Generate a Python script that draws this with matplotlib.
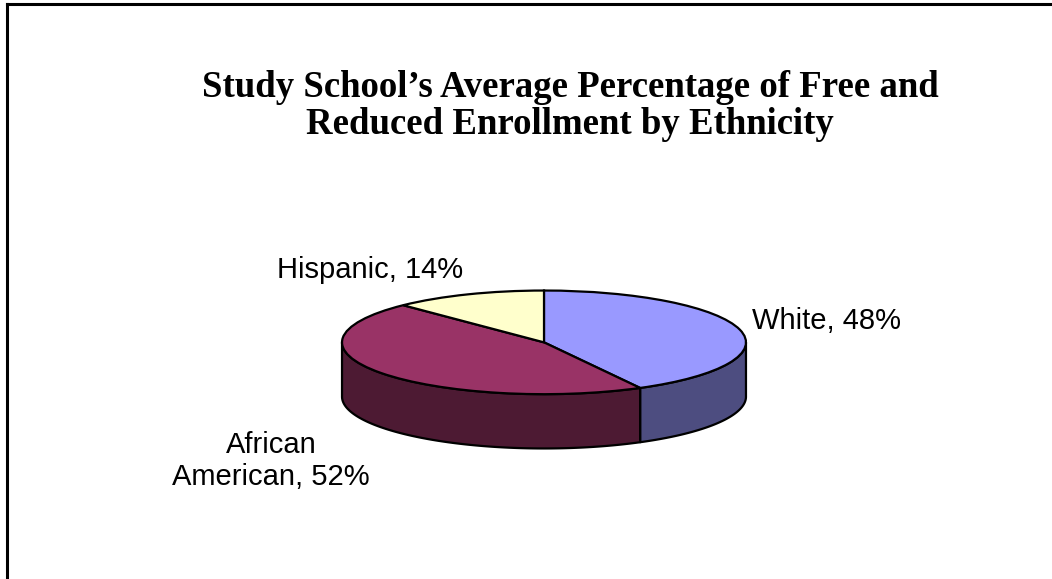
import numpy as np
import matplotlib
matplotlib.use("Agg")
import matplotlib.pyplot as plt
from matplotlib.patches import Polygon
from matplotlib.lines import Line2D

# ---- data ----
categories = ["White", "African American", "Hispanic"]
values = [48, 52, 14]
label_texts = ["White, 48%", "African\nAmerican, 52%", "Hispanic, 14%"]
title = "Study School\u2019s Average Percentage of Free and\nReduced Enrollment by Ethnicity"

top_colors = ["#9999FF", "#993366", "#FFFFCC"]
side_colors = ["#4D4D80", "#4D1A33", "#80806A"]

W, H = 1052, 579
fig = plt.figure(figsize=(W / 100, H / 100), dpi=100)
fig.patch.set_facecolor("white")

# border (left and top edges visible)
fig.add_artist(Line2D([6.5 / W, 6.5 / W], [0, 1 - 3.5 / H], transform=fig.transFigure,
                      color="black", lw=2.2, solid_capstyle="projecting"))
fig.add_artist(Line2D([6.5 / W, 1.0], [1 - 3.5 / H, 1 - 3.5 / H], transform=fig.transFigure,
                      color="black", lw=2.2, solid_capstyle="projecting"))

# title
fig.text(570 / W, 1 - 106 / H, title, ha="center", va="center", multialignment="center",
         fontsize=26.5, fontweight="bold", family="Liberation Serif", linespacing=1.05)

# pie geometry (pixels)
cx, cy_top, rx, ry, depth = 544, 342, 204, 52.5, 55
d = depth / ry
left = (cx - rx) / W
width = 2 * rx / W
top_px = cy_top - ry
bottom_px = cy_top + ry + depth
ax = fig.add_axes([left, 1 - bottom_px / H, width, (bottom_px - top_px) / H])

wedges, _ = ax.pie(values, colors=top_colors, startangle=90, counterclock=False,
                   wedgeprops=dict(edgecolor="black", linewidth=1.6),
                   radius=1.0, center=(0, 0), frame=False)
for w in wedges:
    w.set_zorder(3)

# side walls for the front-facing parts of each slice
for w, sc in zip(wedges, side_colors):
    t1, t2 = w.theta1, w.theta2
    for k in range(-2, 3):
        a = max(t1, -180 + 360 * k)
        b = min(t2, 0 + 360 * k)
        if b > a:
            t = np.radians(np.linspace(a, b, 200))
            xs = np.cos(t)
            ys = np.sin(t)
            pts = np.concatenate([np.column_stack([xs, ys]),
                                  np.column_stack([xs[::-1], ys[::-1] - d])])
            ax.add_patch(Polygon(pts, closed=True, facecolor=sc, edgecolor="black",
                                 linewidth=1.6, zorder=2, joinstyle="round"))

ax.set_aspect("auto")
ax.set_xlim(-1.01, 1.01)
ax.set_ylim(-1 - d - 0.02, 1.02)
ax.set_axis_off()

# labels
lab_pos = [(827, 321), (271, 461), (370, 270)]
for txt, (px, py) in zip(label_texts, lab_pos):
    fig.text(px / W, 1 - py / H, txt, ha="center", va="center", fontsize=21,
             family="Liberation Sans", linespacing=1.2)

fig.savefig("out.png", dpi=100, facecolor="white")
